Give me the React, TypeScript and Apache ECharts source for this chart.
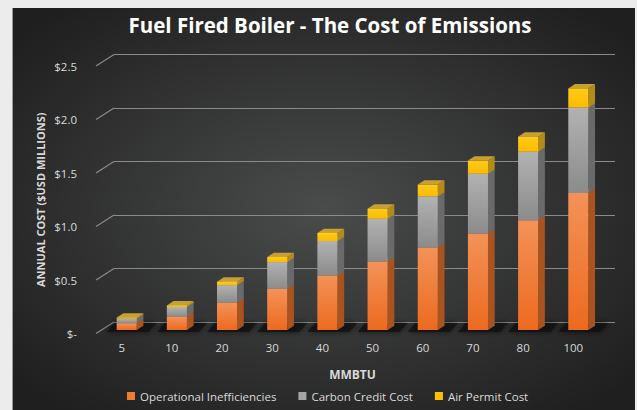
import React, { useEffect, useRef } from "react";
import * as echarts from "echarts";

const categories = ["5", "10", "20", "30", "40", "50", "60", "70", "80", "100"];
const operational = [0.064, 0.125, 0.255, 0.385, 0.51, 0.64, 0.77, 0.9, 1.025, 1.28];
const carbon = [0.042, 0.09, 0.165, 0.25, 0.322, 0.4, 0.48, 0.562, 0.642, 0.8];
const airPermit = [0.01, 0.015, 0.032, 0.047, 0.075, 0.094, 0.109, 0.121, 0.14, 0.178];
const yTicks = [0, 0.5, 1.0, 1.5, 2.0, 2.5];

const DX = 6.7;
const DY = 4.3;
const FONT = "'Open Sans', 'Noto Sans', sans-serif";

type Faces = { front: any; side: string; top: string; name: string; legend: string };

const faces: Faces[] = [
  {
    name: "Operational Inefficiencies",
    legend: "#ed7d31",
    front: new echarts.graphic.LinearGradient(0, 0, 0, 1, [
      { offset: 0, color: "#f39258" },
      { offset: 1, color: "#ec6a1f" },
    ]),
    side: "#a9531f",
    top: "#c96c30",
  },
  {
    name: "Carbon Credit Cost",
    legend: "#a5a5a5",
    front: new echarts.graphic.LinearGradient(0, 0, 0, 1, [
      { offset: 0, color: "#b2b2b2" },
      { offset: 1, color: "#8b8b8b" },
    ]),
    side: "#6a6a6a",
    top: "#8a8a8a",
  },
  {
    name: "Air Permit Cost",
    legend: "#ffc000",
    front: new echarts.graphic.LinearGradient(0, 0, 0, 1, [
      { offset: 0, color: "#ffca1a" },
      { offset: 1, color: "#fbbb00" },
    ]),
    side: "#b38c17",
    top: "#c6a035",
  },
];

export default function App() {
  const ref = useRef<HTMLDivElement>(null);

  useEffect(() => {
    if (!ref.current) return;
    const chart = echarts.init(ref.current, undefined, { renderer: "svg" });

    const seriesValues = [operational, carbon, airPermit];
    const stacked = seriesValues.map((vals, s) =>
      vals.map((v, i) => {
        let base = 0;
        for (let k = 0; k < s; k++) base += seriesValues[k][i];
        return [i, base, base + v];
      })
    );

    const barSeries = faces.map((f, s) => ({
      type: "custom",
      name: f.name,
      xAxisIndex: 0,
      yAxisIndex: 0,
      itemStyle: { color: f.legend },
      encode: { x: 0, y: 2 },
      data: stacked[s],
      z: 5,
      renderItem: (params: any, api: any) => {
        const idx = api.value(0);
        const base = api.value(1);
        const top = api.value(2);
        const pb = api.coord([idx, base]);
        const pt = api.coord([idx, top]);
        const w = api.size([1, 0])[0] * 0.4;
        const x0 = pb[0] - w / 2;
        const x1 = x0 + w;
        const yb = pb[1];
        const yt = pt[1];
        const children: any[] = [];
        if (s === 0) {
          children.push({
            type: "polygon",
            shape: {
              points: [
                [x0 - 10, yb + 2],
                [x1 + 12, yb + 2],
                [x1 + 20, yb - 7],
                [x0 - 2, yb - 7],
              ],
            },
            style: { fill: "rgba(15,15,15,0.75)", shadowBlur: 6, shadowColor: "rgba(0,0,0,0.8)" },
          });
        }
        children.push({
          type: "polygon",
          shape: { points: [[x1, yb], [x1 + DX, yb - DY], [x1 + DX, yt - DY], [x1, yt]] },
          style: { fill: f.side },
        });
        children.push({
          type: "polygon",
          shape: { points: [[x0, yt], [x1, yt], [x1 + DX, yt - DY], [x0 + DX, yt - DY]] },
          style: { fill: f.top },
        });
        children.push({
          type: "rect",
          shape: { x: x0, y: yt, width: w, height: yb - yt },
          style: { fill: f.front },
        });
        return { type: "group", children };
      },
    }));

    const diagSeries = {
      type: "custom",
      xAxisIndex: 1,
      yAxisIndex: 1,
      data: yTicks.map((v) => [0, v]),
      encode: { x: 0, y: 1 },
      silent: true,
      z: 1,
      renderItem: (params: any, api: any) => {
        const p = api.coord([0, api.value(1)]);
        return {
          type: "line",
          shape: { x1: p[0], y1: p[1], x2: p[0] - 18, y2: p[1] + 11.5 },
          style: { stroke: "#8a8a8a", lineWidth: 1.2 },
        };
      },
    };

    chart.setOption({
      animation: false,
      backgroundColor: "#ececec",
      graphic: [
        {
          type: "rect",
          shape: { x: 12, y: 8, width: 623, height: 402 },
          style: {
            fill: new echarts.graphic.RadialGradient(0.5, 0.5, 0.65, [
              { offset: 0, color: "#4a4b4b" },
              { offset: 1, color: "#1f1f1f" },
            ]),
          },
          z: -10,
        },
        {
          type: "line",
          shape: { x1: 12.5, y1: 8, x2: 12.5, y2: 410 },
          style: { stroke: "#9a9a9a", lineWidth: 1 },
          z: -9,
        },
      ],
      title: {
        text: "Fuel Fired Boiler - The Cost of Emissions",
        left: 325,
        textAlign: "center",
        top: 9,
        textStyle: {
          color: "#ffffff",
          fontFamily: FONT,
          fontWeight: "bold",
          fontSize: 20.5,
        },
      },
      legend: {
        bottom: 3,
        left: 122,
        itemWidth: 8,
        itemHeight: 8,
        itemGap: 22,
        icon: "rect",
        textStyle: { color: "#d9d9d9", fontSize: 11.5, fontFamily: FONT },
        data: faces.map((f) => f.name),
      },
      grid: [
        { left: 101.6, width: 501.8, top: 62.5, height: 267.5 },
        { left: 114, width: 501, top: 54.5, height: 267.5 },
        { left: 96, width: 10, top: 66, height: 267.5 },
      ],
      xAxis: [
        {
          type: "category",
          gridIndex: 0,
          data: categories,
          axisLine: { show: false },
          axisTick: { show: false },
          axisLabel: {
            color: "#d9d9d9",
            fontSize: 11.5,
            fontFamily: FONT,
            margin: 11,
            padding: [0, 10, 0, 0],
          },
          name: "MMBTU",
          nameLocation: "middle",
          nameGap: 38,
          nameTextStyle: { color: "#d9d9d9", fontSize: 12, fontWeight: "bold", fontFamily: FONT },
        },
        { type: "value", gridIndex: 1, min: 0, max: 1, show: false },
        { type: "value", gridIndex: 2, min: 0, max: 1, show: false },
      ],
      yAxis: [
        { type: "value", gridIndex: 0, min: 0, max: 2.5, interval: 0.5, show: false },
        {
          type: "value",
          gridIndex: 1,
          min: 0,
          max: 2.5,
          interval: 0.5,
          axisLine: { show: false },
          axisTick: { show: false },
          axisLabel: { show: false },
          splitLine: { show: true, lineStyle: { color: "#8a8a8a", width: 1.2 } },
        },
        {
          type: "value",
          gridIndex: 2,
          min: 0,
          max: 2.5,
          interval: 0.5,
          axisLine: { show: false },
          axisTick: { show: false },
          splitLine: { show: false },
          axisLabel: {
            color: "#d9d9d9",
            fontSize: 11.5,
            fontFamily: FONT,
            margin: 19,
            formatter: (v: number) => (v === 0 ? "$-" : "$" + v.toFixed(1)),
          },
          name: "ANNUAL COST ($USD MILLIONS)",
          nameLocation: "middle",
          nameRotate: 90,
          nameGap: 50,
          nameTextStyle: { color: "#d9d9d9", fontSize: 11, fontWeight: "bold", fontFamily: FONT },
        },
      ],
      series: [diagSeries, ...barSeries],
    });

    return () => chart.dispose();
  }, []);

  return (
    <div
      ref={ref}
      style={{ position: "fixed", left: 0, top: 0, width: 637, height: 410 }}
    />
  );
}
